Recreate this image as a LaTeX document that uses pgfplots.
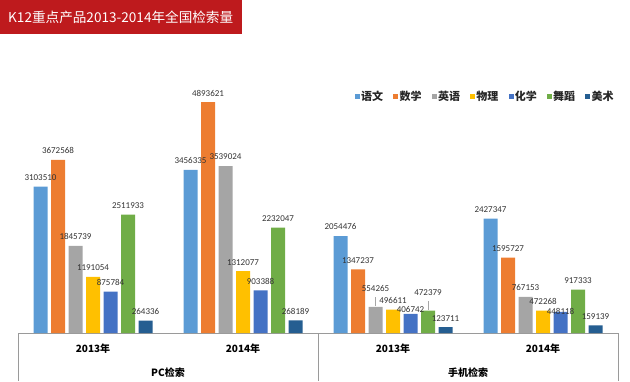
\documentclass[border=0pt]{standalone}
\usepackage{pgfplots}
\pgfplotsset{compat=1.18}
\usepackage{pgfplotstable}
\usepackage{fontspec}
\setmainfont{Carlito}
\newfontfamily\cjk{Noto Sans CJK SC}
\definecolor{c1}{HTML}{5B9BD5}
\definecolor{c2}{HTML}{ED7D31}
\definecolor{c3}{HTML}{A5A5A5}
\definecolor{c4}{HTML}{FFC000}
\definecolor{c5}{HTML}{4472C4}
\definecolor{c6}{HTML}{70AD47}
\definecolor{c7}{HTML}{255E91}
\definecolor{titlered}{HTML}{BE1A1D}
\definecolor{sepgray}{HTML}{9A9A9A}
\pgfplotsset{sq/.style={fill=#1, draw=none, legend image code/.code={\fill[#1] (0pt,-2.5pt) rectangle (5pt,2.5pt);}}}
\pgfplotstableread{
x yw sx yy wl hx wd ms dyy dhx dwd
0 3103510 3672568 1845739 1191054 875784 2511933 264336 0 0 0
1 3456335 4893621 3539024 1312077 903388 2232047 268189 0 0 0
2 2054476 1347237 554265 496611 406742 472379 123711 9 -5 9
3 2427347 1595727 767153 472268 448118 917333 159139 0 -9 0
}\datatable
\begin{document}
\begin{tikzpicture}
\path[use as bounding box] (0,0) rectangle (630pt,381pt);
\fill[titlered] (0,347pt) rectangle (242pt,381pt);
\node[anchor=west, text=white, font=\cjk\fontsize{13.6}{15}\selectfont, inner sep=0] at (8pt,364pt) {K12重点产品2013-2014年全国检索量};
\begin{axis}[
  at={(18pt,48pt)}, anchor=south west,
  scale only axis, width=600pt, height=283pt,
  xmin=-0.5, xmax=3.5, ymin=0, ymax=6e6,
  ybar=3.5pt, bar width=14pt,
  axis x line=bottom, axis y line=none,
  x axis line style={-, draw=sepgray, line width=1pt},
  xtick={0,1,2,3}, xticklabels={2013年,2014年,2013年,2014年},
  xticklabel style={font=\cjk\bfseries\fontsize{10}{12}\selectfont, yshift=-7pt},
  major tick length=0pt,
  ytick=\empty,
  point meta=explicit symbolic,
  nodes near coords,
  every node near coord/.append style={font=\fontsize{9}{10}\selectfont, text=black!80, yshift=2.5pt},
  legend columns=-1,
  legend style={at={(1.0,0.837)}, anchor=east, draw=none, fill=none, font=\cjk\bfseries\fontsize{11}{12}\selectfont, text=black!85, nodes={inner sep=1.2pt}, /tikz/every even column/.append style={column sep=9pt}},
  clip=false,
]
\addplot[sq=c1] table[x=x,y=yw,meta=yw]{\datatable};
\addplot[sq=c2] table[x=x,y=sx,meta=sx]{\datatable};
\addplot[sq=c3, visualization depends on={\thisrow{dyy}\as\dy}, every node near coord/.append style={yshift=\dy pt}] table[x=x,y=yy,meta=yy]{\datatable};
\addplot[sq=c4] table[x=x,y=wl,meta=wl]{\datatable};
\addplot[sq=c5, visualization depends on={\thisrow{dhx}\as\dy}, every node near coord/.append style={yshift=\dy pt}] table[x=x,y=hx,meta=hx]{\datatable};
\addplot[sq=c6, visualization depends on={\thisrow{dwd}\as\dy}, every node near coord/.append style={yshift=\dy pt}] table[x=x,y=wd,meta=wd]{\datatable};
\addplot[sq=c7] table[x=x,y=ms,meta=ms]{\datatable};
\legend{语文,数学,英语,物理,化学,舞蹈,美术}
\draw[black!35, line width=0.5pt] ([xshift=-17.5pt,yshift=1pt]axis cs:2,554265) -- ++(0pt,9pt);
\draw[black!35, line width=0.5pt] ([xshift=35pt,yshift=1pt]axis cs:2,472379) -- ++(0pt,9pt);
\draw[sepgray, line width=1pt] (axis cs:-0.5,0) -- ++(0pt,-48pt);
\draw[sepgray, line width=1pt] (axis cs:1.5,0) -- ++(0pt,-48pt);
\draw[sepgray, line width=1pt] (axis cs:3.5,0) -- ++(0pt,-48pt);
\node[font=\cjk\bfseries\fontsize{10}{12}\selectfont] at (axis cs:0.5,0) [yshift=-39.5pt] {PC检索};
\node[font=\cjk\bfseries\fontsize{10}{12}\selectfont] at (axis cs:2.5,0) [yshift=-39.5pt] {手机检索};
\end{axis}
\end{tikzpicture}
\end{document}
